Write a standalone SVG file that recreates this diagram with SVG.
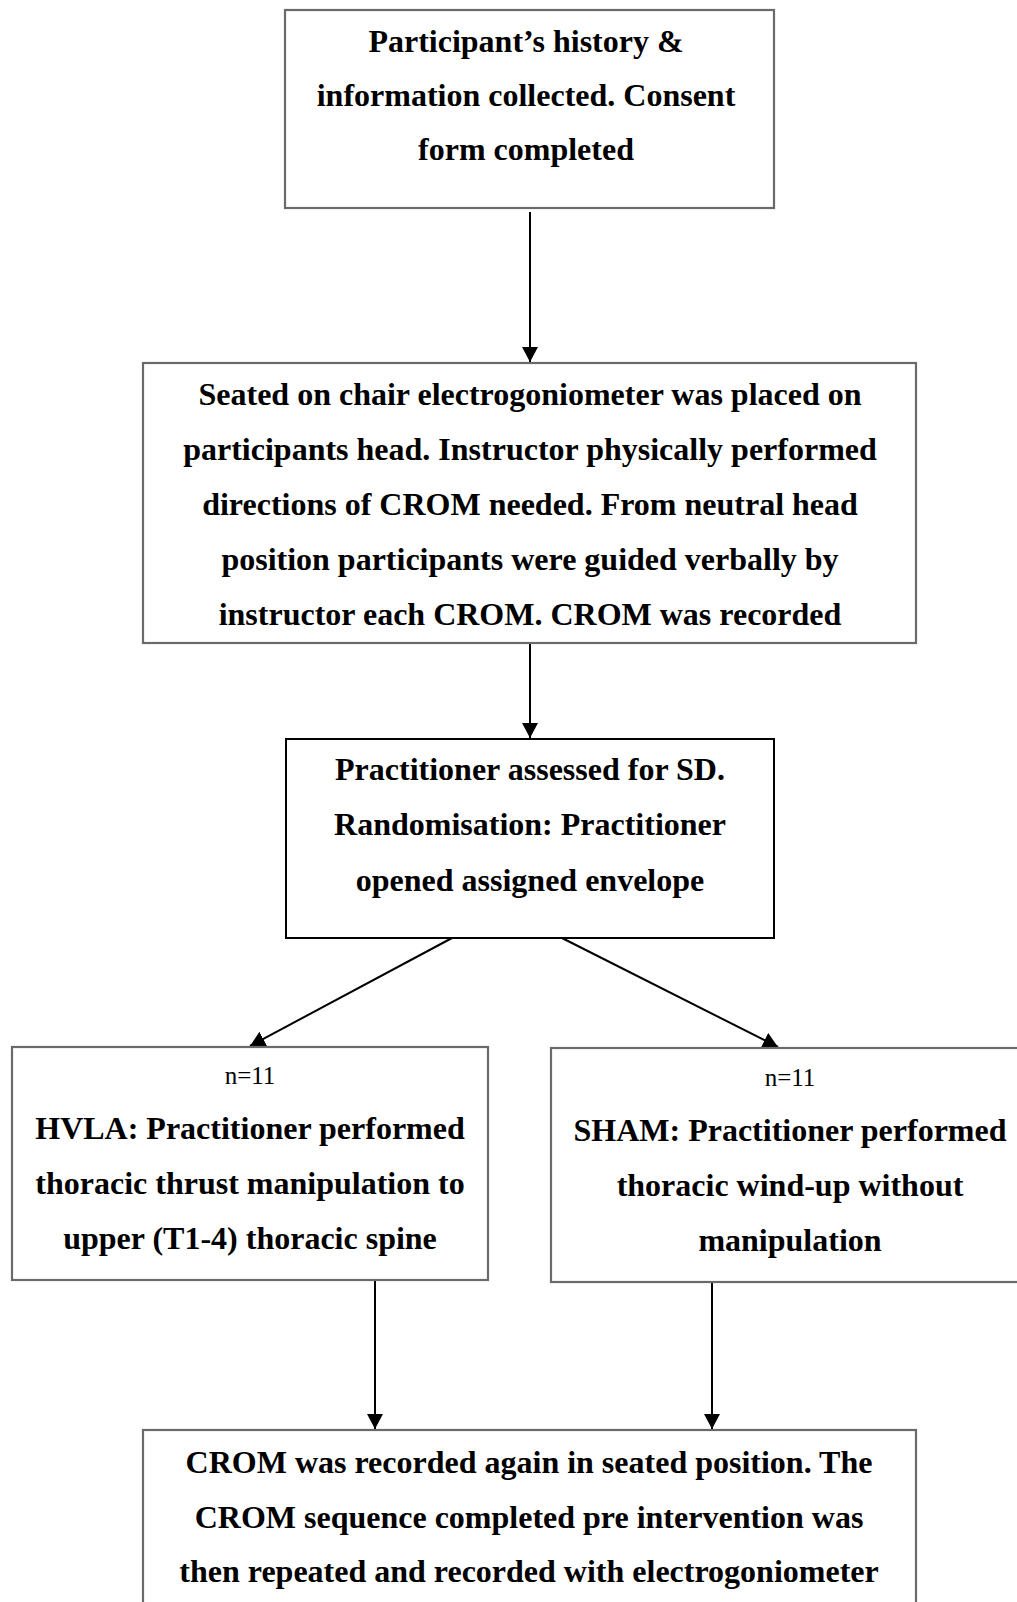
<svg xmlns="http://www.w3.org/2000/svg" width="1017" height="1602" viewBox="0 0 1017 1602">
<defs>
<style>
.box{fill:#fff;stroke:#6a6a6a;stroke-width:2.2}
.boxk{fill:#fff;stroke:#000;stroke-width:2}
.t{font-family:"Liberation Serif","Times New Roman",serif;font-weight:bold;font-size:32px;fill:#000;text-anchor:middle}
.n{font-family:"Liberation Serif","Times New Roman",serif;font-size:25px;fill:#000;text-anchor:middle}
.c{stroke:#000;stroke-width:2;fill:none;marker-end:url(#ah)}
</style>
<marker id="ah" markerWidth="18" markerHeight="18" refX="15" refY="8" orient="auto" markerUnits="userSpaceOnUse">
<path d="M0,0 L15,8 L0,16 Z" fill="#000"/>
</marker>
</defs>
<rect width="1017" height="1602" fill="#fff"/>
<g id="connectors">
<line class="c" x1="530" y1="212" x2="530" y2="362"/>
<line class="c" x1="530" y1="643" x2="530" y2="738"/>
<line class="c" x1="452" y1="938" x2="250" y2="1046"/>
<line class="c" x1="562" y1="938" x2="778" y2="1047"/>
<line class="c" x1="375" y1="1280" x2="375" y2="1429"/>
<line class="c" x1="712" y1="1282" x2="712" y2="1429"/>
</g>
<g id="n1">
<rect class="box" x="285" y="10" width="489" height="198"/>
<text class="t" x="526" y="52">Participant’s history &amp;</text>
<text class="t" x="526" y="106">information collected. Consent</text>
<text class="t" x="526" y="160">form completed</text>
</g>
<g id="n2">
<rect class="box" x="143" y="363" width="773" height="280"/>
<text class="t" x="530" y="405">Seated on chair electrogoniometer was placed on</text>
<text class="t" x="530" y="460">participants head. Instructor physically performed</text>
<text class="t" x="530" y="515">directions of CROM needed. From neutral head</text>
<text class="t" x="530" y="570">position participants were guided verbally by</text>
<text class="t" x="530" y="625">instructor each CROM. CROM was recorded</text>
</g>
<g id="n3">
<rect class="boxk" x="286" y="739" width="488" height="199"/>
<text class="t" x="530" y="780">Practitioner assessed for SD.</text>
<text class="t" x="530" y="835">Randomisation: Practitioner</text>
<text class="t" x="530" y="891">opened assigned envelope</text>
</g>
<g id="n4">
<rect class="box" x="12" y="1047" width="476" height="233"/>
<text class="n" x="250" y="1084">n=11</text>
<text class="t" x="250" y="1139">HVLA: Practitioner performed</text>
<text class="t" x="250" y="1194">thoracic thrust manipulation to</text>
<text class="t" x="250" y="1249">upper (T1-4) thoracic spine</text>
</g>
<g id="n5">
<rect class="box" x="551" y="1048" width="470" height="234"/>
<text class="n" x="790" y="1086">n=11</text>
<text class="t" x="790" y="1141">SHAM: Practitioner performed</text>
<text class="t" x="790" y="1196">thoracic wind-up without</text>
<text class="t" x="790" y="1251">manipulation</text>
</g>
<g id="n6">
<rect class="box" x="143" y="1430" width="773" height="200"/>
<text class="t" x="529" y="1473">CROM was recorded again in seated position. The</text>
<text class="t" x="529" y="1528">CROM sequence completed pre intervention was</text>
<text class="t" x="529" y="1582">then repeated and recorded with electrogoniometer</text>
</g>
</svg>
